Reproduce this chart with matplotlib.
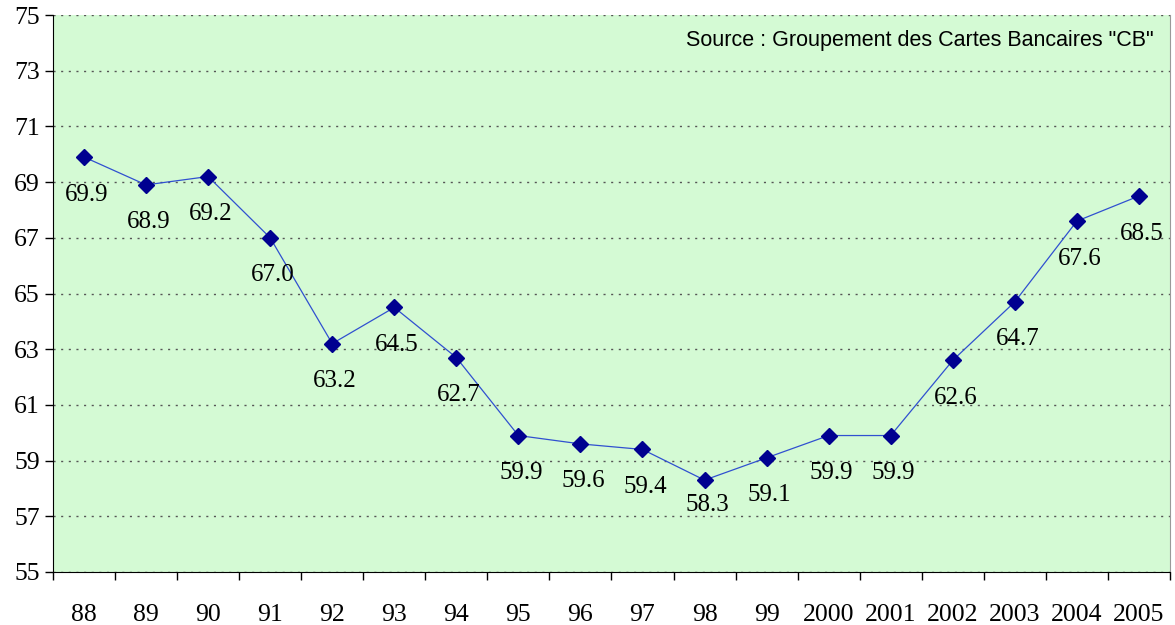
import numpy as np
import matplotlib.pyplot as plt

# données : taux (en %) par année
annees = ['88', '89', '90', '91', '92', '93', '94', '95', '96', '97', '98', '99',
          '2000', '2001', '2002', '2003', '2004', '2005']
valeurs = [69.9, 68.9, 69.2, 67.0, 63.2, 64.5, 62.7, 59.9, 59.6, 59.4, 58.3, 59.1,
           59.9, 59.9, 62.6, 64.7, 67.6, 68.5]
source = 'Source : Groupement des Cartes Bancaires "CB"'

x = np.arange(len(annees))

fig = plt.figure(figsize=(11.75, 6.25), dpi=100)
ax = fig.add_axes([0.0451, 0.0848, 0.9506, 0.8912])
ax.set_facecolor('#d4fad4')

ax.plot(x, valeurs, color='#3050d0', linewidth=0.9, marker='D', markersize=8,
        markerfacecolor='#000090', markeredgecolor='#000090', zorder=3)

# étiquettes de valeurs sous les points (98 un peu plus près du point)
for xi, v in zip(x, valeurs):
    dy = -18 if annees[xi] == '98' else -27
    ax.annotate(f'{v:.1f}', (xi, v), xytext=(2, dy), textcoords='offset points',
                ha='center', va='center', fontsize=18, family='Liberation Serif')

ax.set_xlim(-0.5, len(annees) - 0.5)
ax.set_ylim(55, 75)
ax.set_yticks(np.arange(55, 76, 2))
ax.yaxis.grid(True, linestyle=(0, (1.5, 4)), color='#555555', linewidth=1)
ax.set_axisbelow(True)

# graduations entre les catégories, libellés au centre
ax.set_xticks(np.arange(-0.5, len(annees), 1))
ax.set_xticklabels([])
ax.set_xticks(x, minor=True)
ax.set_xticklabels(annees, minor=True)
ax.tick_params(axis='x', which='major', length=6, width=1, direction='out')
ax.tick_params(axis='x', which='minor', length=0, pad=23, labelsize=18.5)
ax.tick_params(axis='y', length=6, width=1, labelsize=18.5)
for lab in ax.get_xticklabels(minor=True) + ax.get_yticklabels():
    lab.set_family('Liberation Serif')

ax.spines['top'].set_visible(False)
ax.spines['right'].set_color('#999999')

ax.text(0.985, 0.955, source, transform=ax.transAxes, ha='right', va='center',
        fontsize=15.5, family='Liberation Sans')

fig.savefig('out.png', dpi=100)
